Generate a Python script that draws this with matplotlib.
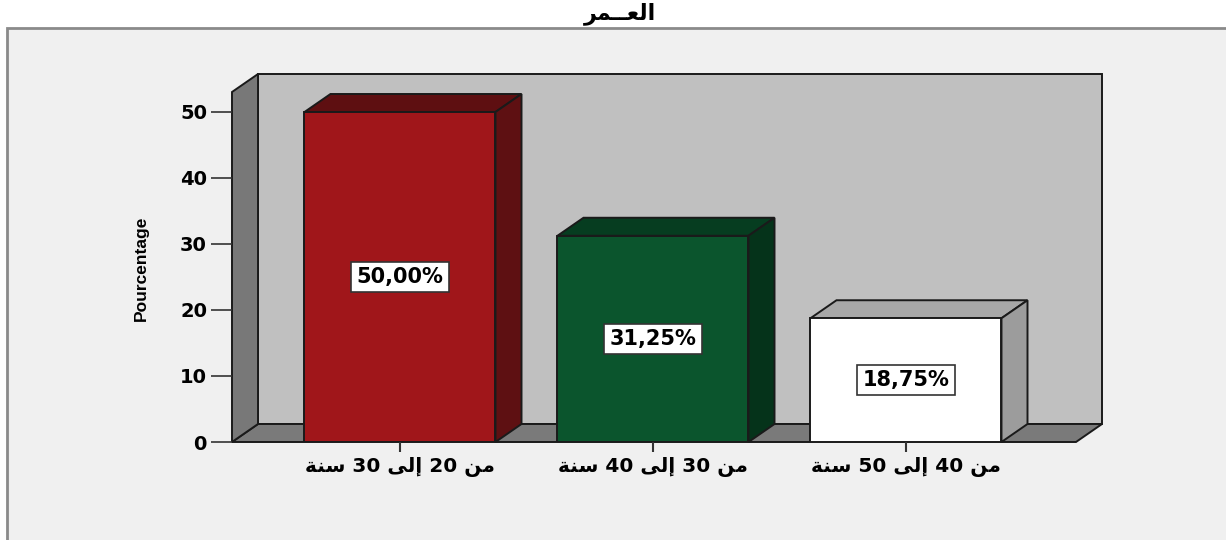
import matplotlib.pyplot as plt
from matplotlib.patches import Polygon, Rectangle

# Arabic text is given already shaped (presentation forms, visual order),
# since matplotlib does no Arabic shaping / bidi by itself.
SANA = "\uFE94\uFEE8\uFEB3"   # سنة
ILA = "\uFEF0\uFEDF\uFE87"    # إلى
MIN = "\uFEE6\uFEE3"          # من

TITLE = "\uFEAE\uFEE4\u0640\u0640\uFECC\uFEDF\uFE8D"   # العــمر
CATEGORIES = [
    f"{SANA} 30 {ILA} 20 {MIN}",   # من 20 إلى 30 سنة
    f"{SANA} 40 {ILA} 30 {MIN}",   # من 30 إلى 40 سنة
    f"{SANA} 50 {ILA} 40 {MIN}",   # من 40 إلى 50 سنة
]
PERCENTAGES = [50.00, 31.25, 18.75]
Y_TICKS = [0, 10, 20, 30, 40, 50]
Y_LABEL = "Pourcentage"

FRONT_COLORS = ["#a0161a", "#0b552d", "#ffffff"]
TOP_COLORS = ["#5e0f11", "#063d20", "#a8a8a8"]
SIDE_COLORS = ["#5e1012", "#05331a", "#9c9c9c"]

W, H = 1226, 540
BAR_W = 0.755
DX, DY = 0.1028, 2.727      # depth offset in data units
XMIN, XMAX = -0.664, 2.672
YMAX = 53.03

FONT = ["DejaVu Sans"]

fig = plt.figure(figsize=(W / 100, H / 100), dpi=100, facecolor="white")

# light grey chart panel, behind the axes
fig.patches.append(Rectangle((7 / W, -0.1), 1.2, (H - 28) / H + 0.1,
                             transform=fig.transFigure, facecolor="#f0f0f0",
                             edgecolor="#8a8a8a", lw=2, zorder=-5))

ax = fig.add_axes([232 / W, (H - 442) / H, 844 / W, 350 / H])
ax.set_facecolor("none")
ax.set_xlim(XMIN, XMAX)
ax.set_ylim(0, YMAX)
for s in ax.spines.values():
    s.set_visible(False)

# back wall, floor and left wall
ax.add_patch(Polygon([(XMIN + DX, DY), (XMAX + DX, DY), (XMAX + DX, YMAX + DY),
                      (XMIN + DX, YMAX + DY)], closed=True, facecolor="#c0c0c0",
                     edgecolor="#1a1a1a", lw=1.4, clip_on=False, zorder=0))
ax.add_patch(Polygon([(XMIN, 0), (XMAX, 0), (XMAX + DX, DY), (XMIN + DX, DY)],
                     closed=True, facecolor="#7a7a7a", edgecolor="#1a1a1a",
                     lw=1.4, clip_on=False, zorder=1))
ax.add_patch(Polygon([(XMIN, 0), (XMIN + DX, DY), (XMIN + DX, YMAX + DY), (XMIN, YMAX)],
                     closed=True, facecolor="#787878", edgecolor="#1a1a1a",
                     lw=1.4, clip_on=False, zorder=1))

xs = list(range(len(PERCENTAGES)))
ax.bar(xs, PERCENTAGES, width=BAR_W, color=FRONT_COLORS, edgecolor="#1a1a1a",
       lw=1.4, zorder=4)
for x, v, tc, sc in zip(xs, PERCENTAGES, TOP_COLORS, SIDE_COLORS):
    l, r = x - BAR_W / 2, x + BAR_W / 2
    ax.add_patch(Polygon([(l, v), (r, v), (r + DX, v + DY), (l + DX, v + DY)],
                         closed=True, facecolor=tc, edgecolor="#1a1a1a", lw=1.4,
                         clip_on=False, zorder=3))
    ax.add_patch(Polygon([(r, 0), (r + DX, DY), (r + DX, v + DY), (r, v)],
                         closed=True, facecolor=sc, edgecolor="#1a1a1a", lw=1.4,
                         clip_on=False, zorder=3))
    ax.text(x, v / 2, f"{v:.2f}%".replace(".", ","), ha="center", va="center",
            fontsize=15, fontweight="bold", family=FONT, zorder=5,
            bbox=dict(boxstyle="square,pad=0.25", facecolor="white",
                      edgecolor="#333333", lw=1.2))

ax.set_yticks(Y_TICKS)
ax.set_yticklabels([str(t) for t in Y_TICKS], fontsize=14, fontweight="bold",
                   family=FONT)
ax.tick_params(axis="y", length=15, width=1.2, color="#333333", pad=3)
ax.set_xticks(xs)
ax.set_xticklabels(CATEGORIES, fontsize=14.5, fontweight="bold", family=FONT)
ax.tick_params(axis="x", length=7, width=1.5, color="#333333", pad=4)

fig.text(141 / W, (H - 268) / H, Y_LABEL, rotation=90, ha="center", va="center",
         fontsize=12.5, fontweight="bold",
         family=["Liberation Sans Narrow", "DejaVu Sans Condensed", "Liberation Sans"])
fig.text(620 / W, (H - 14) / H, TITLE, ha="center", va="center", fontsize=16,
         fontweight="bold", family=FONT)

fig.savefig("out.png", dpi=100, facecolor="white")
